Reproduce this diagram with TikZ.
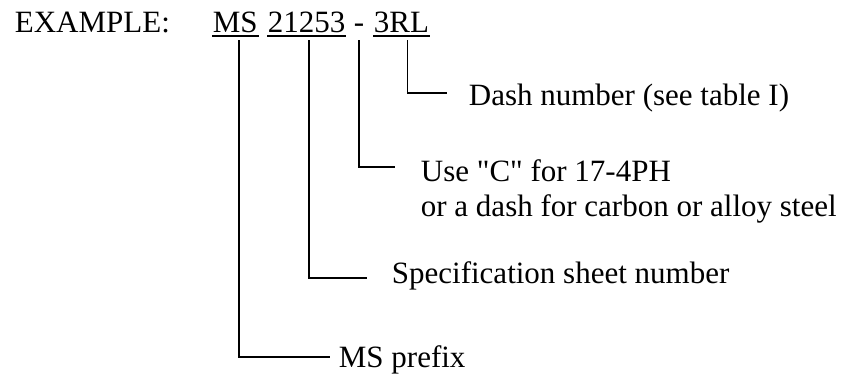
\documentclass[tikz,border=0pt]{standalone}
\usepackage{fontspec}
\setmainfont{Liberation Serif}
\usetikzlibrary{positioning,calc}

\begin{document}
\begin{tikzpicture}[x=1pt, y=-1pt, line width=1.8pt,
  every node/.style={inner sep=0pt, anchor=base west, font=\fontsize{31}{35}\selectfont},
  uline/.style={line width=1.5pt}]
\useasboundingbox (0,0) rectangle (852,373);
\node (ex) [] at (14,32) {EXAMPLE:};
\node (ms) [] at (212,32) {MS};
\node (num) [] at (267,32) {21253};
\node (dash) [] at (353,32) {-};
\node (code) [] at (373,32) {3RL};
\node (ldash) [] at (468,105) {Dash number (see table I)};
\node (lmat) [align=left] at (420,216) {Use \textquotedbl C\textquotedbl{} for 17-4PH\\or a dash for carbon or alloy steel};
\node (lspec) [] at (391,283) {Specification sheet number};
\node (lpre) [] at (338,367) {MS prefix};
\draw[uline] ([yshift=-4pt]ms.base west) -- ([yshift=-4pt]ms.base east);
\draw[uline] ([yshift=-4pt]num.base west) -- ([yshift=-4pt]num.base east);
\draw[uline] ([yshift=-4pt]code.base west) -- ([yshift=-4pt]code.base east);
\draw[] ([xshift=6pt,yshift=-8pt]code.base) |- ([xshift=-21pt,yshift=12pt]ldash.base west);
\draw[] ([yshift=-8pt]dash.base) |- ([xshift=-25pt,yshift=49pt]lmat.base west);
\draw[] ([xshift=2pt,yshift=-8pt]num.base) |- ([xshift=-24pt,yshift=5pt]lspec.base west);
\draw[] ([xshift=4pt,yshift=-8pt]ms.base) |- ([xshift=-8pt,yshift=10pt]lpre.base west);
\end{tikzpicture}
\end{document}
